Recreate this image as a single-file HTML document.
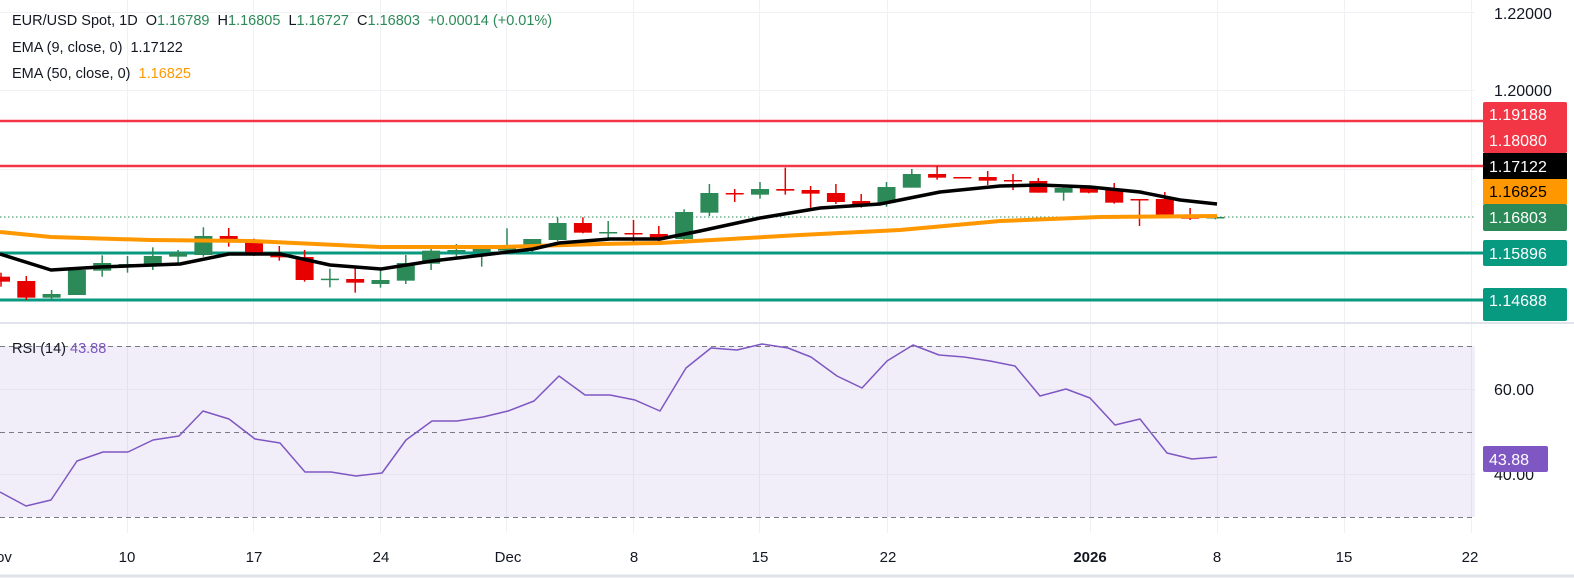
<!DOCTYPE html>
<html><head><meta charset="utf-8"><style>
html,body{margin:0;padding:0;background:#fff;}
body{width:1574px;height:578px;overflow:hidden;position:relative;font-family:"Liberation Sans",sans-serif;}
svg{position:absolute;left:0;top:0;}
.t{position:absolute;left:12px;font-size:14.5px;color:#131722;white-space:pre;}
.g{color:#2b8a57}.o{color:#ff9800}.p{color:#7e57c2}
</style></head><body>
<svg id="s" width="1574" height="578" xmlns="http://www.w3.org/2000/svg">
<g stroke="#f0f1f4" stroke-width="1">
<line x1="127.5" y1="0" x2="127.5" y2="533"/><line x1="253.5" y1="0" x2="253.5" y2="533"/>
<line x1="380.5" y1="0" x2="380.5" y2="533"/><line x1="506.5" y1="0" x2="506.5" y2="533"/>
<line x1="633.5" y1="0" x2="633.5" y2="533"/><line x1="759.5" y1="0" x2="759.5" y2="533"/>
<line x1="887.5" y1="0" x2="887.5" y2="533"/><line x1="1090.5" y1="0" x2="1090.5" y2="533"/>
<line x1="1217.5" y1="0" x2="1217.5" y2="533"/><line x1="1344.5" y1="0" x2="1344.5" y2="533"/>
<line x1="1471.5" y1="0" x2="1471.5" y2="533"/>
<line x1="0" y1="12.5" x2="1475" y2="12.5"/><line x1="0" y1="90.5" x2="1475" y2="90.5"/>
<line x1="0" y1="169.5" x2="1475" y2="169.5"/>
</g>
<rect x="0" y="346" width="1475" height="171" fill="#7e57c2" fill-opacity="0.1"/>
<g stroke="#e6e4ee" stroke-width="1"><line x1="0" y1="389.5" x2="1475" y2="389.5"/><line x1="0" y1="474.5" x2="1475" y2="474.5"/></g>
<g stroke="#787b86" stroke-width="1" stroke-dasharray="5,4">
<line x1="0" y1="346.5" x2="1475" y2="346.5"/><line x1="0" y1="432.5" x2="1475" y2="432.5"/><line x1="0" y1="517.5" x2="1475" y2="517.5"/></g>
<line x1="0" y1="323" x2="1574" y2="323" stroke="#e0e3eb" stroke-width="2"/>
<line x1="0" y1="576" x2="1574" y2="576" stroke="#e0e3eb" stroke-width="3"/>
<line x1="0" y1="121" x2="1483" y2="121" stroke="#f23645" stroke-width="2.5"/>
<line x1="0" y1="166" x2="1483" y2="166" stroke="#f23645" stroke-width="2.5"/>
<line x1="0" y1="253" x2="1483" y2="253" stroke="#089981" stroke-width="3"/>
<line x1="0" y1="300" x2="1483" y2="300" stroke="#089981" stroke-width="3"/>
<line x1="0" y1="217" x2="1475" y2="217" stroke="#2b8a57" stroke-width="1" stroke-dasharray="1.5,2.5"/>
<g id="c"></g>
<polyline fill="none" stroke="#ff9800" stroke-width="4" stroke-linejoin="round" points="0,232 51,237 150,240 250,241 380,247 500,247 600,244 660,243 800,235 900,230 1000,221 1100,217 1217,216"/>
<polyline fill="none" stroke="#000" stroke-width="3.5" stroke-linejoin="round" points="0,254 51,270 100,267 180,264 229,254 280,254 330,265 381,269 432,261 483,255 533,249 559,243 610,239 660,239 700,231 760,218 820,208 880,204 940,192 1000,186 1040,185 1090,187 1140,192 1180,200 1217,204"/>
<polyline fill="none" stroke="#7e57c2" stroke-width="1.5" stroke-linejoin="round" points="0,492 26,506 51,500 77,461 103,452 128,452 153,440 179,436 203,411 229,419 255,439 280,443 305,472 331,472 356,476 382,473 406,440 432,421 457,421 483,417 508,411 534,401 559,376 585,395 610,395 635,400 660,411 686,368 711,348 737,350 762,344 788,348 811,357 837,376 862,388 887,361 913,345 939,355 964,357 990,361 1015,366 1040,396 1066,389 1090,398 1115,425 1140,419 1167,453 1192,459 1217,457"/>
<g font-family="Liberation Sans,sans-serif" font-size="16" fill="#131722">
<text x="1494" y="19">1.22000</text><text x="1494" y="96">1.20000</text>
<text x="1494" y="395">60.00</text><text x="1494" y="480">40.00</text>
</g>
<g font-family="Liberation Sans,sans-serif" font-size="16" fill="#fff">
<rect x="1483" y="102" width="84" height="51" fill="#f23645" rx="2"/>
<text x="1489" y="120">1.19188</text><text x="1489" y="146">1.18080</text>
<rect x="1483" y="153" width="84" height="26" fill="#000"/>
<text x="1489" y="172">1.17122</text>
<rect x="1483" y="179" width="84" height="25" fill="#ff9800"/>
<text x="1489" y="197" fill="#000">1.16825</text>
<rect x="1483" y="204" width="84" height="27" fill="#2b8a57" rx="2"/>
<text x="1489" y="223">1.16803</text>
<rect x="1483" y="240" width="84" height="26" fill="#089981" rx="2"/>
<text x="1489" y="259">1.15896</text>
<rect x="1483" y="288" width="84" height="33" fill="#089981" rx="2"/>
<text x="1489" y="306">1.14688</text>
<rect x="1483" y="446" width="65" height="26" fill="#7e57c2" rx="2"/>
<text x="1489" y="465">43.88</text>
</g>
<g font-family="Liberation Sans,sans-serif" font-size="15" fill="#131722" text-anchor="middle">
<text x="4" y="562">ov</text><text x="127" y="562">10</text><text x="254" y="562">17</text><text x="381" y="562">24</text>
<text x="508" y="562">Dec</text><text x="634" y="562">8</text><text x="760" y="562">15</text><text x="888" y="562">22</text>
<text x="1090" y="562" font-weight="bold">2026</text><text x="1217" y="562">8</text><text x="1344" y="562">15</text><text x="1470" y="562">22</text>
</g>
<text x="12" y="353" font-family="Liberation Sans,sans-serif" font-size="14.5" fill="#131722">RSI (14) <tspan fill="#7e57c2">43.88</tspan></text>
</svg>
<div class="t" style="top:13px">EUR/USD Spot, 1D  O<span class="g">1.16789</span>  H<span class="g">1.16805</span>  L<span class="g">1.16727</span>  C<span class="g">1.16803</span>  <span class="g">+0.00014 (+0.01%)</span></div>
<div class="t" style="top:40px">EMA (9, close, 0)  1.17122</div>
<div class="t" style="top:66px">EMA (50, close, 0)  <span class="o">1.16825</span></div>
<script>
var d=[
['r',380,395,368,410],['r',393,443,378,450],['g',432,443,420,450],['g',360,435,355,435],['g',339,362,316,380],
['g',342,345,318,368],['g',318,345,292,360],['g',308,320,300,342],['g',258,315,232,320],['r',258,275,234,290],
['r',270,315,266,318],['r',312,322,288,332],['r',321,390,300,395],['g',386,388,356,412],['r',387,398,353,428],
['g',390,402,356,413],['g',339,392,315,402],['g',302,341,296,360],['g',300,304,282,325],['g',297,305,288,350],
['g',285,302,235,305],['g',267,288,267,306],['g',219,270,202,273],['r',219,248,202,250],['g',246,248,213,265],
['r',249,251,210,280],['r',252,267,228,278],['g',186,267,178,273],['g',129,188,102,198],['r',129,131,117,156],
['g',117,134,96,146],['r',117,122,53,134],['r',120,131,108,173],['r',129,156,102,162],['r',153,167,132,173],
['g',111,158,96,170],['g',72,113,57,113],['r',72,83,48,89],['r',81,83,81,83],['r',81,92,63,105],
['r',90,92,72,120],['r',93,128,84,128],['g',114,128,107,152],['r',114,128,110,130],['r',120,158,99,161],
['r',147,149,147,228],['r',147,197,126,197],['r',195,206,174,210],['g',201,203,198,208]];
var h='';
for(var i=0;i<d.length;i++){var c=d[i],x=1+25.3*i,col=c[0]=='g'?'#2b8a57':'#e60000';
var bt=150+c[1]/3,bb=150+c[2]/3,wt=150+c[3]/3,wb=150+c[4]/3;if(bb-bt<1.5)bb=bt+1.5;
h+='<line x1="'+x+'" y1="'+wt+'" x2="'+x+'" y2="'+wb+'" stroke="'+col+'" stroke-width="1.5"/>';
h+='<rect x="'+(x-9)+'" y="'+bt+'" width="18" height="'+(bb-bt)+'" fill="'+col+'"/>';}
document.getElementById('c').innerHTML=h;
</script>
</body></html>
